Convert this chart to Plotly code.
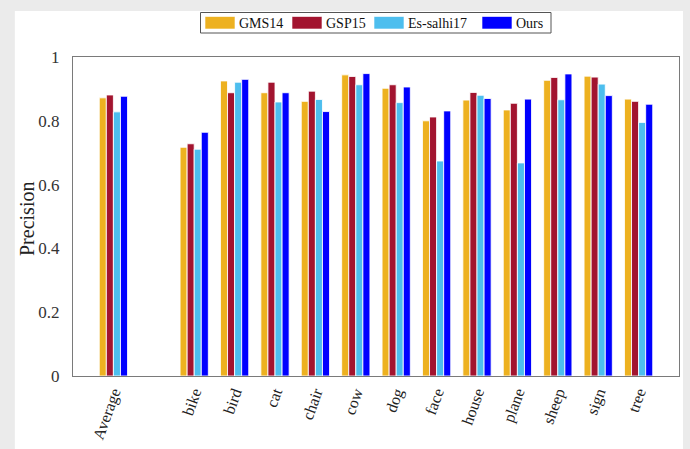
import plotly.graph_objects as go

# Precision per image category for each method
categories = ["Average", "bike", "bird", "cat", "chair", "cow", "dog", "face",
              "house", "plane", "sheep", "sign", "tree"]
series_names = ["GMS14", "GSP15", "Es-salhi17", "Ours"]
gms14 = [0.872, 0.717, 0.925, 0.888, 0.861, 0.944, 0.902, 0.800, 0.865, 0.834, 0.927, 0.940, 0.868]
gsp15 = [0.881, 0.728, 0.888, 0.921, 0.893, 0.939, 0.913, 0.812, 0.889, 0.855, 0.936, 0.937, 0.861]
es_salhi17 = [0.828, 0.711, 0.921, 0.859, 0.867, 0.913, 0.857, 0.674, 0.880, 0.668, 0.866, 0.915, 0.795]
ours = [0.877, 0.764, 0.930, 0.888, 0.829, 0.948, 0.906, 0.831, 0.870, 0.868, 0.947, 0.879, 0.852]
y_ticks = [0, 0.2, 0.4, 0.6, 0.8, 1]
y_tick_labels = ["0", "0.2", "0.4", "0.6", "0.8", "1"]
y_title = "Precision"

colors = ["#EDB120", "#A2142F", "#4DBEEE", "#0000FF"]
serif = "Liberation Serif, Times New Roman, serif"

# "Average" sits apart from the per-category groups, one slot to its right is left empty
positions = [1] + list(range(3, 3 + len(categories) - 1))

fig = go.Figure()
for name, vals, col in zip(series_names, [gms14, gsp15, es_salhi17, ours], colors):
    fig.add_trace(go.Bar(
        x=positions, y=vals, name=name, showlegend=False,
        marker=dict(color=col, line=dict(color="rgba(255,255,255,0.85)", width=1)),
    ))

# Light grey window frame around the white figure area
fig.add_shape(type="rect", xref="paper", yref="paper",
              x0=-0.096, x1=1.0066, y0=-0.35, y1=1.144,
              fillcolor="white", line=dict(width=0), layer="below")

# Helpers converting pixel offsets of the 690x449 canvas into paper coordinates
px_w, px_h = 606.0, 319.0
def px_x(p):
    return (p - 73) / px_w
def px_y(p):
    return (376 - p) / px_h

# Boxed horizontal legend with wide colour swatches
fig.add_shape(type="rect", xref="paper", yref="paper",
              x0=px_x(200.5), x1=px_x(551), y0=px_y(33), y1=px_y(12.5),
              fillcolor="white", line=dict(color="#555555", width=1))
swatch_left = [205, 292, 374, 482]
for name, col, sx in zip(series_names, colors, swatch_left):
    fig.add_shape(type="rect", xref="paper", yref="paper",
                  x0=px_x(sx), x1=px_x(sx + 30), y0=px_y(29), y1=px_y(16.5),
                  fillcolor=col, line=dict(color="rgba(255,255,255,0.6)", width=1))
    fig.add_annotation(xref="paper", yref="paper", x=px_x(sx + 32), y=px_y(23),
                       text=name, showarrow=False, xanchor="left", yanchor="middle",
                       font=dict(family=serif, size=14, color="#111111"))

# Vertical y-axis title
fig.add_annotation(xref="paper", yref="paper", x=px_x(27), y=px_y(219),
                   text=y_title, textangle=-90, showarrow=False,
                   xanchor="center", yanchor="middle",
                   font=dict(family=serif, size=20, color="#222222"))

fig.update_layout(
    width=690, height=449,
    margin=dict(l=73, r=11, t=57, b=73),
    paper_bgcolor="#ebebeb", plot_bgcolor="white",
    barmode="group", bargap=0.3, bargroupgap=0.0,
    font=dict(family=serif, color="#333333"),
    xaxis=dict(
        range=[0, 15], tickmode="array", tickvals=positions, ticktext=categories,
        tickangle=-70, tickfont=dict(family=serif, size=16, color="#222222"),
        showline=True, linecolor="#7a7a7a", linewidth=1, mirror=True,
        showgrid=False, zeroline=False, ticks="", automargin=False,
    ),
    yaxis=dict(
        range=[0, 1], tickmode="array", tickvals=y_ticks, ticktext=y_tick_labels,
        tickfont=dict(family=serif, size=17, color="#333333"),
        showline=True, linecolor="#7a7a7a", linewidth=1, mirror=True,
        showgrid=False, zeroline=False, ticks="", ticklabelstandoff=9,
        automargin=False,
    ),
)

fig.write_html("out.html")
